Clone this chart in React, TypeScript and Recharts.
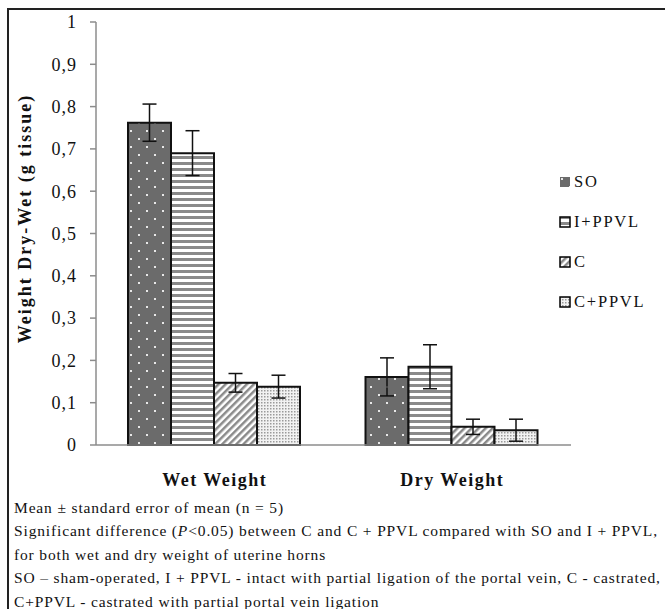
import React from 'react';
import { BarChart, Bar, XAxis, YAxis, ErrorBar } from 'recharts';

const categories = ['Wet Weight', 'Dry Weight'];
const groups = ['SO', 'I+PPVL', 'C', 'C+PPVL'];
const soValues = [0.762, 0.161];
const soErrors = [0.044, 0.045];
const ippvlValues = [0.69, 0.185];
const ippvlErrors = [0.053, 0.052];
const cValues = [0.147, 0.043];
const cErrors = [0.022, 0.018];
const cppvlValues = [0.138, 0.035];
const cppvlErrors = [0.027, 0.026];
const yTicks = [0, 0.1, 0.2, 0.3, 0.4, 0.5, 0.6, 0.7, 0.8, 0.9, 1];
const notes = [
  'Mean ± standard error of mean (n = 5)',
  'Significant difference (P<0.05) between C and C + PPVL compared with SO and I + PPVL,',
  'for both wet and dry weight of uterine horns',
  'SO – sham-operated, I + PPVL - intact with partial ligation of the portal vein, C - castrated,',
  'C+PPVL - castrated with partial portal vein ligation',
];

const data = categories.map((name, i) => ({
  name,
  so: soValues[i],
  soErr: soErrors[i],
  ippvl: ippvlValues[i],
  ippvlErr: ippvlErrors[i],
  c: cValues[i],
  cErr: cErrors[i],
  cppvl: cppvlValues[i],
  cppvlErr: cppvlErrors[i],
}));

const FONT = '"Liberation Serif", "Times New Roman", serif';
const fills = ['url(#pSO)', 'url(#pIPPVL)', 'url(#pC)', 'url(#pCPPVL)'];

function LegendBox() {
  return (
    <div style={{ position: 'absolute', left: 559, top: 162, fontFamily: FONT, fontSize: 16.5, letterSpacing: 1.8, color: '#111' }}>
      {groups.map((g, i) => (
        <div key={g} style={{ display: 'flex', alignItems: 'center', height: 40 }}>
          <svg width={12} height={12} style={{ marginRight: 3 }}>
            <rect x={1} y={1} width={10} height={10} fill={fills[i]} stroke={i === 0 ? 'none' : '#000'} strokeWidth={1.5} />
          </svg>
          <span>{g}</span>
        </div>
      ))}
    </div>
  );
}

function formatTick(v: number) {
  return String(v).replace('.', ',');
}

function YTitle(props: any) {
  const vb = props.viewBox;
  const cx = vb.x + 25;
  const cy = vb.y + vb.height / 2 - 15;
  return (
    <text
      x={cx}
      y={cy}
      transform={`rotate(-90 ${cx} ${cy})`}
      textAnchor="middle"
      dominantBaseline="central"
      style={{ fontFamily: FONT, fontSize: 18, fontWeight: 'bold', letterSpacing: 2 }}
      fill="#111"
    >
      Weight Dry-Wet (g tissue)
    </text>
  );
}

export default function App() {
  return (
    <div style={{ position: 'absolute', left: 0, top: 0, width: 665, height: 609, background: '#fff', overflow: 'hidden' }}>
      <div style={{ position: 'absolute', left: 7, top: 8, width: 700, height: 700, borderTop: '2px solid #222', borderLeft: '2px solid #222' }} />
      <div style={{ position: 'absolute', left: 0, top: 0 }}>
        <BarChart
          width={665}
          height={510}
          data={data}
          margin={{ top: 22, right: 94, bottom: 25, left: 0 }}
          barCategoryGap={32}
          barGap={0}
          style={{ fontFamily: FONT }}
        >
          <defs>
            <pattern id="pSO" width={16} height={16} patternUnits="userSpaceOnUse">
              <rect width={16} height={16} fill="#6b6b6b" />
              <rect x={2} y={2} width={2} height={2} fill="#e8e8e8" />
              <rect x={10} y={10} width={2} height={2} fill="#e8e8e8" />
            </pattern>
            <pattern id="pIPPVL" width={6} height={6} patternUnits="userSpaceOnUse">
              <rect width={6} height={6} fill="#fff" />
              <rect y={0} width={6} height={3} fill="#8a8a8a" />
            </pattern>
            <pattern id="pC" width={5} height={5} patternUnits="userSpaceOnUse" patternTransform="rotate(45)">
              <rect width={5} height={5} fill="#fff" />
              <rect width={2.5} height={5} fill="#8a8a8a" />
            </pattern>
            <pattern id="pCPPVL" width={3} height={3} patternUnits="userSpaceOnUse">
              <rect width={3} height={3} fill="#f2f2f2" />
              <rect width={1.5} height={1.5} fill="#9a9a9a" />
            </pattern>
          </defs>
          <XAxis
            dataKey="name"
            axisLine={{ stroke: '#8c8c8c', strokeWidth: 1.5 }}
            tickLine={false}
            height={40}
            tick={{ fontFamily: FONT, fontSize: 18, fontWeight: 'bold', fill: '#111', letterSpacing: 1.5 } as any}
            dy={20}
          />
          <YAxis
            domain={[0, 1]}
            ticks={yTicks}
            width={96}
            interval={0}
            axisLine={{ stroke: '#8c8c8c', strokeWidth: 1.5 }}
            tickLine={{ stroke: '#8c8c8c', strokeWidth: 1.5 }}
            tickSize={6}
            tickMargin={13}
            tickFormatter={formatTick}
            tick={{ fontFamily: FONT, fontSize: 18, fill: '#111', letterSpacing: 1 } as any}
            label={YTitle}
          />
          <Bar dataKey="so" name="SO" fill={fills[0]} stroke="#111" strokeWidth={2} isAnimationActive={false}>
            <ErrorBar dataKey="soErr" width={7} stroke="#111" strokeWidth={1.5} />
          </Bar>
          <Bar dataKey="ippvl" name="I+PPVL" fill={fills[1]} stroke="#111" strokeWidth={2} isAnimationActive={false}>
            <ErrorBar dataKey="ippvlErr" width={7} stroke="#111" strokeWidth={1.5} />
          </Bar>
          <Bar dataKey="c" name="C" fill={fills[2]} stroke="#111" strokeWidth={2} isAnimationActive={false}>
            <ErrorBar dataKey="cErr" width={7} stroke="#111" strokeWidth={1.5} />
          </Bar>
          <Bar dataKey="cppvl" name="C+PPVL" fill={fills[3]} stroke="#111" strokeWidth={2} isAnimationActive={false}>
            <ErrorBar dataKey="cppvlErr" width={7} stroke="#111" strokeWidth={1.5} />
          </Bar>
        </BarChart>
      </div>
      <LegendBox />
      <div style={{ position: 'absolute', left: 14, top: 496, fontFamily: FONT, fontSize: 15.5, letterSpacing: 0.85, lineHeight: '23.4px', color: '#111', whiteSpace: 'nowrap' }}>
        {notes.map((n, i) => (
          <div key={i}>
            {i === 1 ? (
              <>
                Significant difference (<i>P</i>
                {n.slice('Significant difference (P'.length)}
              </>
            ) : (
              n
            )}
          </div>
        ))}
      </div>
    </div>
  );
}
